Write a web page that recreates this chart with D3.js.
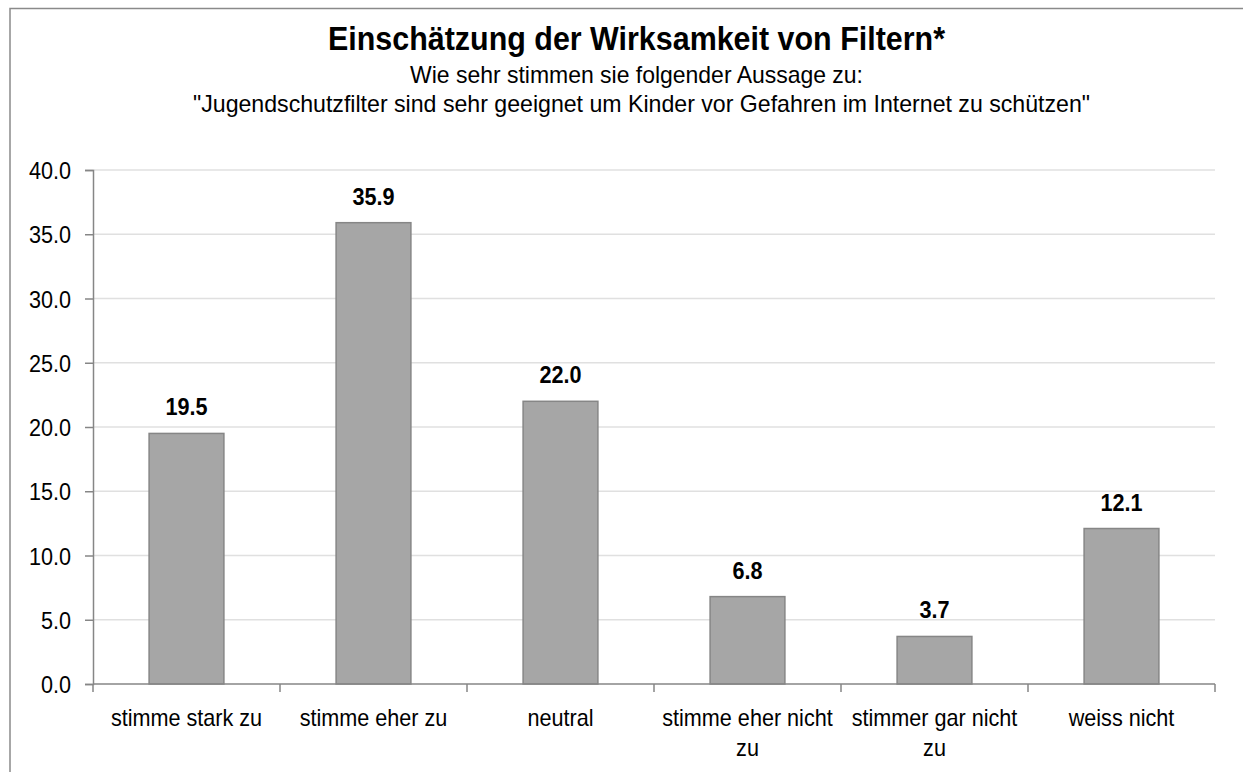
<!DOCTYPE html>
<html>
<head>
<meta charset="utf-8">
<script src="https://cdn.jsdelivr.net/npm/d3@7"></script>
<style>
  body { margin: 0; background: #fff; }
  text { font-family: "Liberation Sans Narrow", "Arial Narrow", "Liberation Sans", Arial, sans-serif; fill: #000; }
</style>
</head>
<body>
<div id="chart"></div>
<script>
var categories = ["stimme stark zu", "stimme eher zu", "neutral", "stimme eher nicht zu", "stimmer gar nicht zu", "weiss nicht"];
var values = [19.5, 35.9, 22.0, 6.8, 3.7, 12.1];
var yTicks = [0, 5, 10, 15, 20, 25, 30, 35, 40];

var svgWidth = 1243;
var svgHeight = 772;

var margin = { top: 170, right: 28, bottom: 88, left: 93 };
var width = svgWidth - margin.left - margin.right;
var height = svgHeight - margin.top - margin.bottom;

// the original uses a narrow face; grow the glyphs and squeeze them back to width
var squeeze = 0.9;
function narrow(sel) {
    sel.each(function() {
        var len = this.getComputedTextLength();
        d3.select(this)
            .attr("textLength", len * squeeze)
            .attr("lengthAdjust", "spacingAndGlyphs");
    });
}

var svg = d3.select("#chart")
    .append("svg")
    .attr("width", svgWidth)
    .attr("height", svgHeight);

// outer frame, runs off the right and bottom edges
svg.append("rect")
    .attr("x", 10)
    .attr("y", 8.5)
    .attr("width", 1300)
    .attr("height", 900)
    .attr("fill", "none")
    .attr("stroke", "#8a8a8a")
    .attr("stroke-width", 1.5);

// titles
svg.append("text")
    .attr("x", 328)
    .attr("y", 50)
    .attr("font-size", "33px")
    .attr("font-weight", "bold")
    .attr("textLength", 617)
    .attr("lengthAdjust", "spacingAndGlyphs")
    .text("Einschätzung der Wirksamkeit von Filtern*");

svg.append("text")
    .attr("x", 410)
    .attr("y", 83)
    .attr("font-size", "24px")
    .attr("textLength", 453)
    .attr("lengthAdjust", "spacingAndGlyphs")
    .text("Wie sehr stimmen sie folgender Aussage zu:");

svg.append("text")
    .attr("x", 193)
    .attr("y", 112)
    .attr("font-size", "24px")
    .attr("textLength", 897)
    .attr("lengthAdjust", "spacingAndGlyphs")
    .text("\"Jugendschutzfilter sind sehr geeignet um Kinder vor Gefahren im Internet zu schützen\"");

var chartGroup = svg.append("g")
    .attr("transform", `translate(${margin.left}, ${margin.top})`);

var xScale = d3.scaleBand()
    .domain(categories)
    .range([0, width])
    .paddingInner(0.6)
    .paddingOuter(0.3);

var yScale = d3.scaleLinear()
    .domain([0, 40])
    .range([height, 0]);

// gridlines
chartGroup.append("g")
    .selectAll("line")
    .data(yTicks.slice(1))
    .enter()
    .append("line")
    .attr("x1", 0)
    .attr("x2", width)
    .attr("y1", d => yScale(d))
    .attr("y2", d => yScale(d))
    .attr("stroke", "#e0e0e0")
    .attr("stroke-width", 1.5);

// y axis
var leftAxis = d3.axisLeft(yScale)
    .tickValues(yTicks)
    .tickSize(8)
    .tickPadding(14)
    .tickFormat(d3.format(".1f"));

var yAxis = chartGroup.append("g").call(leftAxis);
yAxis.select(".domain").attr("stroke", "#868686").attr("stroke-width", 1.5);
yAxis.selectAll(".tick line").attr("stroke", "#868686").attr("stroke-width", 1.5);
yAxis.selectAll(".tick text")
    .attr("font-size", "24px")
    .attr("font-family", null)
    .attr("dy", "0.36em")
    .call(narrow);

// bars
chartGroup.append("g")
    .selectAll("rect")
    .data(values)
    .enter()
    .append("rect")
    .attr("x", (d, i) => xScale(categories[i]))
    .attr("y", d => yScale(d))
    .attr("width", xScale.bandwidth())
    .attr("height", d => height - yScale(d))
    .attr("fill", "#a6a6a6")
    .attr("stroke", "#868686")
    .attr("stroke-width", 1.5);

// value labels
chartGroup.append("g")
    .selectAll("text")
    .data(values)
    .enter()
    .append("text")
    .attr("x", (d, i) => xScale(categories[i]) + xScale.bandwidth() / 2)
    .attr("y", d => yScale(d) - 18)
    .attr("text-anchor", "middle")
    .attr("font-size", "24px")
    .attr("font-weight", "bold")
    .text(d => d3.format(".1f")(d))
    .call(narrow);

// x axis: ticks sit on the band boundaries
var step = xScale.step();
var xAxisG = chartGroup.append("g")
    .attr("transform", `translate(0, ${height})`);

xAxisG.append("line")
    .attr("x1", 0)
    .attr("x2", width)
    .attr("stroke", "#868686")
    .attr("stroke-width", 1.5);

xAxisG.selectAll(".xtick")
    .data(d3.range(categories.length + 1))
    .enter()
    .append("line")
    .attr("class", "xtick")
    .attr("x1", i => i * width / categories.length)
    .attr("x2", i => i * width / categories.length)
    .attr("y1", 0)
    .attr("y2", 8)
    .attr("stroke", "#868686")
    .attr("stroke-width", 1.5);

// category labels, wrapped to two lines when too wide
var labels = xAxisG.selectAll(".xlabel")
    .data(categories)
    .enter()
    .append("text")
    .attr("class", "xlabel")
    .attr("text-anchor", "middle")
    .attr("font-size", "24px")
    .attr("y", 42);

labels.each(function(d) {
    var t = d3.select(this);
    var cx = xScale(d) + xScale.bandwidth() / 2;
    var words = d.split(" ");
    var line = [];
    var tspan = t.append("tspan").attr("x", cx).attr("dy", 0);
    words.forEach(function(w) {
        line.push(w);
        tspan.text(line.join(" "));
        if (tspan.node().getComputedTextLength() * squeeze > step - 4 && line.length > 1) {
            line.pop();
            tspan.text(line.join(" "));
            line = [w];
            tspan = t.append("tspan").attr("x", cx).attr("dy", "30px").text(w);
        }
    });
});
labels.selectAll("tspan").call(narrow);
</script>
</body>
</html>
